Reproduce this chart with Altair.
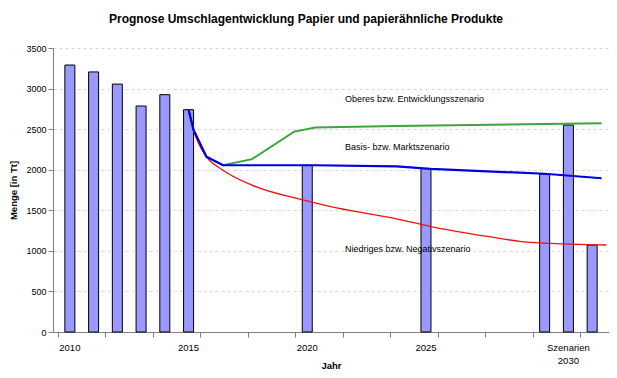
import altair as alt
import pandas as pd

# ---------------- data ----------------
title_text = "Prognose Umschlagentwicklung Papier und papierähnliche Produkte"

# bar categories (slot index on the category axis) and values
bar_labels = ["2010", "2011", "2012", "2013", "2014", "2015", "2020", "2025",
              "2030 Basis", "2030 Oberes", "2030 Niedriges"]
bar_slots = [0, 1, 2, 3, 4, 5, 10, 15, 20, 21, 22]
bar_values = [3290, 3205, 3055, 2785, 2925, 2740, 2055, 2015, 1945, 2550, 1070]

# x tick labels (slot index, text)
tick_slots = [0, 5, 10, 15, 21]
tick_labels = ["2010", "2015", "2020", "2025", "Szenarien\n2030"]

# scenario lines (positions in slot units)
green_x = [5.0, 5.21, 5.75, 6.45, 7.67, 9.45, 10.34, 13.76, 22.4]
green_y = [2740, 2490, 2160, 2055, 2130, 2470, 2520, 2540, 2572]

red_x = [5.0, 5.21, 5.75, 6.37, 7.67, 9.78, 10.89, 13.76, 15.2, 17.66, 19.02, 20.0, 22.6]
red_y = [2740, 2490, 2160, 2010, 1810, 1630, 1550, 1395, 1300, 1175, 1115, 1095, 1072]

blue_x = [5.0, 5.21, 5.75, 6.45, 10.3, 13.76, 15.2, 20.0, 22.4]
blue_y = [2740, 2490, 2160, 2055, 2055, 2040, 2010, 1950, 1895]

note_texts = ["Oberes bzw. Entwicklungsszenario", "Basis- bzw. Marktszenario",
              "Niedriges bzw. Negativszenario"]
note_x = [11.59, 11.59, 11.59]
note_y = [2870, 2285, 1020]

y_ticks = [0, 500, 1000, 1500, 2000, 2500, 3000, 3500]
n_slots = 23

# ---------------- chart ----------------
W, H = 556, 284
FONT = "Liberation Sans"

xs = alt.Scale(domain=[-0.5, n_slots - 0.5], nice=False, zero=False)
ys = alt.Scale(domain=[0, 3500], nice=False)
boundaries = [i - 0.5 for i in range(n_slots + 1)]

df_bars = pd.DataFrame({"label": bar_labels, "slot": bar_slots, "value": bar_values})

bars = alt.Chart(df_bars).mark_bar(
    size=10, fill="#9999FF", stroke="#000000", strokeWidth=1
).encode(
    x=alt.X("slot:Q", scale=xs, axis=alt.Axis(
        values=boundaries, labels=False, ticks=True, tickSize=5,
        tickColor="#808080", domainColor="#808080", grid=False,
        title="Jahr", titleFontSize=9.5, titleFontWeight="bold", titleColor="#000000",
        titleX=W / 2, titleY=33, titleBaseline="middle", titleAlign="center")),
    y=alt.Y("value:Q", scale=ys, axis=alt.Axis(
        values=y_ticks, format="d", grid=True, gridDash=[3, 3], gridColor="#d8d8d8",
        tickSize=5, tickColor="#808080", domainColor="#808080",
        labelFontSize=9, labelColor="#000000", labelPadding=2,
        title="Menge [in Tt]", titleFontSize=9.5, titleFontWeight="bold",
        titleColor="#000000", titleX=-40, titleY=H / 2, titleAngle=270,
        titleAlign="center", titleBaseline="middle")),
)

def line_layer(xv, yv, color, width, interp="linear"):
    d = pd.DataFrame({"x": xv, "y": yv})
    return alt.Chart(d).mark_line(color=color, strokeWidth=width, interpolate=interp).encode(
        x=alt.X("x:Q", scale=xs), y=alt.Y("y:Q", scale=ys))

green = line_layer(green_x, green_y, "#3fa33f", 2)
red = line_layer(red_x, red_y, "#ee1111", 1.3, "monotone")
blue = line_layer(blue_x, blue_y, "#0000dd", 2.2)

notes = alt.Chart(pd.DataFrame({"t": note_texts, "x": note_x, "y": note_y})).mark_text(
    align="left", baseline="middle", fontSize=9, color="#000000"
).encode(x=alt.X("x:Q", scale=xs), y=alt.Y("y:Q", scale=ys), text="t:N")

xlabels = alt.Chart(pd.DataFrame({"slot": tick_slots, "t": tick_labels})).mark_text(
    align="center", baseline="top", fontSize=9.5, color="#000000",
    lineBreak="\n", lineHeight=13
).encode(x=alt.X("slot:Q", scale=xs), y=alt.value(H + 11), text="t:N")

chart = alt.layer(bars, green, red, blue, notes, xlabels).properties(
    width=W, height=H,
    title=alt.TitleParams(title_text, fontSize=12, fontWeight="bold", anchor="middle",
                          dx=-25, offset=18, color="#000000", font=FONT),
    padding={"left": 45, "top": 40, "right": 0, "bottom": 38},
    autosize=alt.AutoSizeParams(type="none"),
).configure(font=FONT).configure_view(stroke=None)

chart.save("out.html", embed_options={"renderer": "svg", "actions": False})
